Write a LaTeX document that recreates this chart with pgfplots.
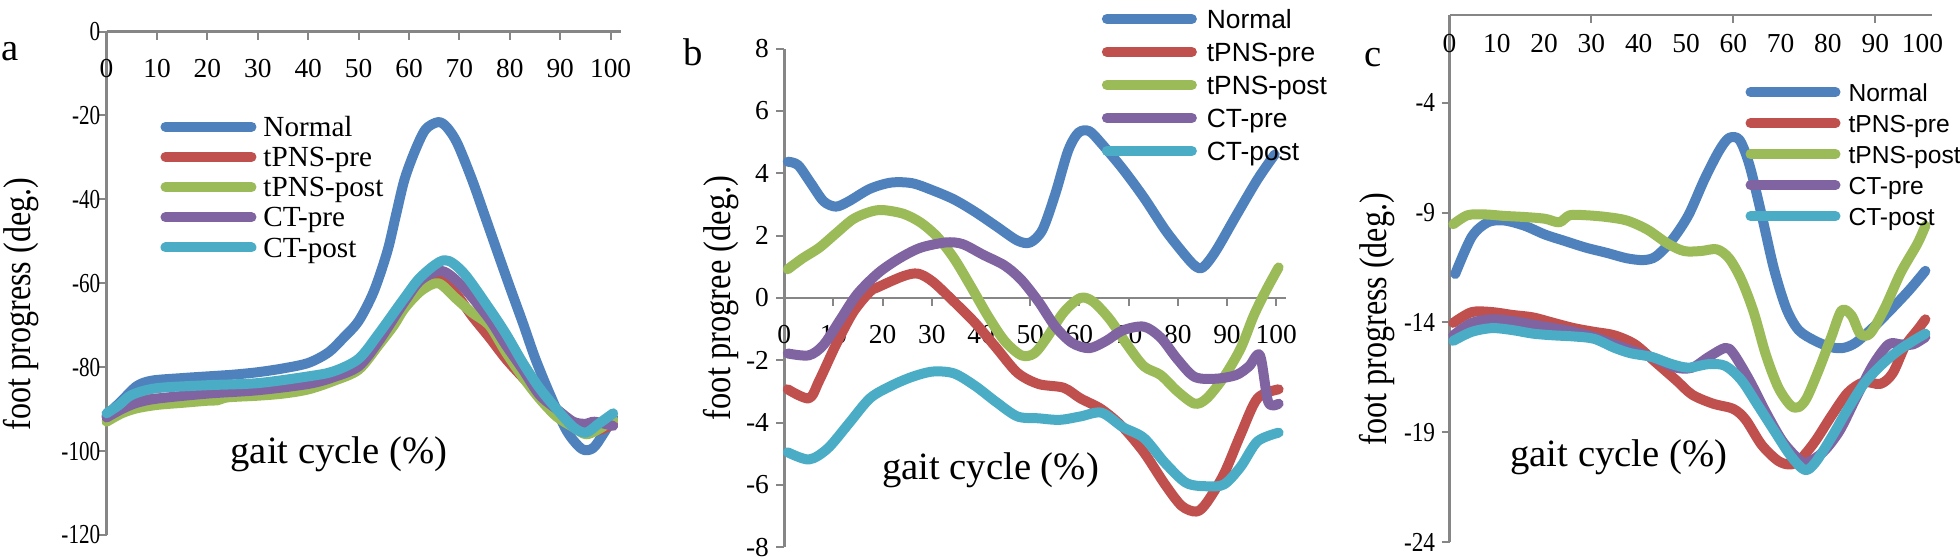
\documentclass[border=0pt]{standalone}
\usepackage{pgfplots}
\pgfplotsset{compat=1.18}
\usepackage{fontspec}
\setmainfont{Liberation Serif}
\newfontfamily\arial{Liberation Sans}
\definecolor{cN}{HTML}{4F81BD}
\definecolor{cTP}{HTML}{C0504D}
\definecolor{cTQ}{HTML}{9BBB59}
\definecolor{cCP}{HTML}{8064A2}
\definecolor{cCQ}{HTML}{4BACC6}
\definecolor{axg}{HTML}{868686}
\pgfplotsset{
  panel/.style={
    scale only axis,
    xmin=0, xmax=102,
    axis x line=middle, axis y line=left,
    axis line style={draw=axg, line width=0.025cm, -},
    tick style={draw=axg, line width=0.02cm},
    tick align=outside,
    major tick length=0.08cm,
    hide obscured x ticks=false, hide obscured y ticks=false,
    /pgf/number format/assume math mode=true,
    tick label style={font=\fontsize{7.8}{8}\selectfont, text=black},
    every axis plot/.append style={line width=0.1cm, line cap=round, line join=round, smooth, tension=0.5, no markers},
    clip=false,
    legend cell align=left,
  },
}
\begin{document}
\begin{tikzpicture}
\useasboundingbox (0,0) rectangle (19.6,5.6);
% ---------------- panel a ----------------
\begin{axis}[panel,
  at={(1.066cm,0.25cm)}, anchor=south west,
  width=5.141cm, height=5.035cm,
  ymin=-120, ymax=0, ytick={-120,-100,...,0},
  yticklabel={\scalebox{0.77}[1]{\pgfmathprintnumber{\tick}}},
  yticklabel style={xshift=0.14cm},
  xtick={0,10,...,100},
  xticklabel style={yshift=-0.07cm},
  legend style={draw=none, fill=none, inner sep=0pt, outer sep=0pt,
    at={(axis description cs:0.1048,0.691)}, anchor=west,
    column sep=0.07cm, row sep=0pt,
    font=\fontsize{8.3}{9}\selectfont,
    nodes={inner sep=0pt, text height=0.2475cm, text depth=0.0545cm}},
  legend image code/.code={\draw[#1, line width=0.1cm, line cap=round] (0cm,0cm) -- (0.86cm,0cm);},
  xlabel={gait cycle (\%)},
  every axis x label/.style={at={(axis description cs:0.452,0.161)}, anchor=center, font=\fontsize{11}{13}\selectfont},
  ylabel={\scalebox{0.83}[1]{foot progress (deg.)}},
  every axis y label/.style={at={(axis description cs:-0.1665,0.4588)}, anchor=center, rotate=90, font=\fontsize{11}{13}\selectfont},
]
\addplot[cN] coordinates {(0,-91.5) (3,-88) (6,-84.5) (9,-83.2) (15,-82.6) (20,-82.2) (25,-81.8) (30,-81.2) (35,-80.3) (40,-79) (44,-76.5) (47,-73) (50,-69) (53,-62) (55.7,-52.4) (57.4,-43.8) (59.1,-35.3) (61.2,-28.4) (63.3,-23.3) (65.8,-21.6) (67.5,-22.8) (69.6,-26.7) (72.5,-35.3) (75,-43.8) (77.5,-52.4) (80,-60.9) (82.6,-69.5) (85.1,-78.1) (88,-86.6) (91.3,-95.2) (94.3,-99.5) (96.5,-99.3) (98.5,-96) (100.5,-92)};
\addlegendentry{Normal}
\addplot[cTP] coordinates {(0,-92) (3,-89.5) (6,-88.2) (10,-87.5) (20,-87) (30,-86.5) (40,-85) (45,-83) (50,-80) (54,-74.5) (58,-67) (62,-61) (66,-59.2) (69,-62) (72.5,-67.8) (76,-73) (79.2,-78) (82.6,-82.5) (85.9,-86.6) (89,-90.5) (91.5,-92.8) (94.3,-94.3) (97.6,-95) (100.5,-93.5)};
\addlegendentry{tPNS-pre}
\addplot[cTQ] coordinates {(0,-93) (3,-91) (6,-89.8) (10,-89) (15,-88.5) (20,-88) (22,-87.9) (24,-87.2) (30,-86.8) (35,-86.3) (40,-85.3) (45,-83.3) (50,-80.6) (54,-74.7) (57,-70) (59.1,-66) (62.4,-61.8) (65.8,-60) (69.2,-63.5) (72.5,-67) (75.9,-70) (79.2,-76.4) (82.6,-82.4) (85.9,-87.5) (89.3,-91.8) (92.6,-94.3) (95.1,-96) (97.6,-94.8) (100.5,-92.6)};
\addlegendentry{tPNS-post}
\addplot[cCP] coordinates {(0,-92) (3,-90) (6,-88.5) (10,-87.5) (20,-86.3) (30,-85.5) (40,-84) (45,-82.4) (50,-79.8) (54,-73.8) (59.1,-64.4) (62.4,-59.2) (66.6,-57.1) (70.8,-61) (75.9,-68.5) (79.2,-74.7) (82.6,-80.6) (85.9,-86.6) (89.3,-90) (92.6,-93) (95.1,-93.5) (96.8,-93) (100.5,-94)};
\addlegendentry{CT-pre}
\addplot[cCQ] coordinates {(0,-91) (2.5,-89) (5,-86.6) (10,-85) (20,-84.3) (30,-83.8) (40,-82.2) (45,-81) (50,-78) (54,-72) (59.1,-63.5) (62.4,-58.4) (67,-54.5) (70.8,-57.5) (75.9,-66) (79.2,-72) (82.6,-79) (85.9,-85) (89.3,-90) (92.6,-94.3) (95.1,-95.6) (97.6,-93.5) (100.5,-91)};
\addlegendentry{CT-post}
\end{axis}
% ---------------- panel b ----------------
\begin{axis}[panel,
  at={(7.843cm,0.126cm)}, anchor=south west,
  width=5.017cm, height=4.989cm,
  ymin=-8, ymax=8, ytick={-8,-6,...,8},
  yticklabel style={xshift=0.05cm},
  xtick={0,10,...,100},
  xticklabel style={yshift=-0.07cm},
  legend style={draw=none, fill=none, inner sep=0pt, outer sep=0pt,
    at={(axis description cs:0.633,0.927)}, anchor=west,
    column sep=0.1cm, row sep=0pt,
    font=\arial\fontsize{7.5}{9}\selectfont,
    nodes={inner sep=0pt, text height=0.2595cm, text depth=0.0705cm}},
  legend image code/.code={\draw[#1, line width=0.1cm, line cap=round] (0cm,0cm) -- (0.85cm,0cm);},
  xlabel={gait cycle (\%)},
  every axis x label/.style={at={(axis description cs:0.411,0.155)}, anchor=center, font=\fontsize{11}{13}\selectfont},
  ylabel={\scalebox{0.84}[1]{foot progree (deg.)}},
  every axis y label/.style={at={(axis description cs:-0.126,0.4999)}, anchor=center, rotate=90, font=\fontsize{11}{13}\selectfont},
]
\addplot[cN] coordinates {(0.7,4.37) (2.8,4.26) (5.4,3.68) (8,3.1) (10.5,2.93) (13.1,3.1) (17.4,3.5) (21.7,3.7) (26,3.68) (30.2,3.45) (34.5,3.16) (38.8,2.76) (43.1,2.3) (47.4,1.84) (50,1.78) (52.5,2.19) (55.1,3.34) (57.7,4.72) (59.8,5.3) (62,5.35) (64.5,4.95) (68.8,4.14) (73.1,3.22) (77.4,2.19) (80.8,1.5) (83.4,1.04) (85.1,0.98) (87.7,1.5) (91.9,2.65) (96.2,3.8) (99.7,4.6)};
\addlegendentry{Normal}
\addplot[cTP] coordinates {(0.7,-2.93) (5,-3.22) (7.1,-2.65) (10.5,-1.5) (14,-0.46) (17.4,0.2) (19.1,0.35) (24.2,0.7) (27.2,0.78) (30.2,0.52) (34.5,-0.12) (38.8,-0.8) (43.1,-1.6) (47.4,-2.4) (51.7,-2.76) (56.8,-2.88) (60.2,-3.22) (64.5,-3.57) (68.8,-4.14) (73.1,-4.95) (77.4,-5.98) (80.8,-6.67) (83.8,-6.85) (85.9,-6.56) (89.4,-5.64) (92.8,-4.37) (96.2,-3.22) (100.5,-2.93)};
\addlegendentry{tPNS-pre}
\addplot[cTQ] coordinates {(0.7,0.92) (3.7,1.27) (7.1,1.61) (10.5,2.07) (14,2.53) (17.4,2.76) (20,2.82) (24.2,2.7) (27.7,2.42) (31.1,1.96) (34.5,1.27) (38,0.35) (41.4,-0.58) (44.8,-1.38) (48.2,-1.84) (50.8,-1.78) (53.4,-1.27) (56.8,-0.46) (60.2,0) (62.8,-0.12) (66.2,-0.69) (69.7,-1.5) (73.1,-2.19) (76.5,-2.47) (79.9,-2.99) (83.4,-3.39) (85.9,-3.22) (89.4,-2.53) (92.8,-1.61) (95.4,-0.58) (97.9,0.23) (100.5,0.98)};
\addlegendentry{tPNS-post}
\addplot[cCP] coordinates {(0.7,-1.78) (5,-1.84) (8,-1.5) (11.4,-0.69) (14.8,0.12) (19.1,0.8) (23.4,1.27) (27.7,1.61) (32.8,1.78) (36.2,1.73) (40.5,1.38) (44.8,1.04) (48.2,0.58) (51.7,-0.12) (55.1,-0.92) (58.5,-1.44) (62,-1.61) (65.4,-1.38) (68.8,-1.04) (73.1,-0.92) (76.5,-1.27) (79.9,-1.96) (83.4,-2.53) (87.7,-2.59) (91.9,-2.47) (94.5,-2.19) (96.7,-1.84) (98.4,-3.34) (100.5,-3.39)};
\addlegendentry{CT-pre}
\addplot[cCQ] coordinates {(0.7,-4.95) (5,-5.18) (8.8,-4.83) (13.1,-4.03) (17.4,-3.22) (21.7,-2.82) (26,-2.53) (30.2,-2.36) (34.5,-2.42) (38.8,-2.82) (43.1,-3.34) (47.4,-3.8) (51.7,-3.86) (56,-3.91) (60.2,-3.8) (64.5,-3.68) (68.8,-4.14) (73.1,-4.49) (77.4,-5.29) (81.7,-5.93) (85.9,-6.04) (89.4,-5.98) (92.8,-5.41) (96.2,-4.6) (100.5,-4.32)};
\addlegendentry{CT-post}
\end{axis}
% ---------------- panel c ----------------
\begin{axis}[panel,
  at={(14.495cm,0.18cm)}, anchor=south west,
  width=4.825cm, height=5.27cm,
  ymin=-24, ymax=0, ytick={-24,-19,-14,-9,-4},
  yticklabel={\scalebox{0.85}[1]{\pgfmathprintnumber{\tick}}},
  yticklabel style={xshift=0.06cm},
  xtick={30,60,90}, xticklabels={},
  extra x ticks={0,10,...,100},
  extra x tick style={major tick length=0pt},
  xticklabel style={yshift=-0.07cm},
  legend style={draw=none, fill=none, inner sep=0pt, outer sep=0pt,
    at={(axis description cs:0.6135,0.736)}, anchor=west,
    column sep=0.08cm, row sep=0pt,
    font=\arial\fontsize{7.0}{9}\selectfont,
    nodes={inner sep=0pt, text height=0.2495cm, text depth=0.0605cm}},
  legend image code/.code={\draw[#1, line width=0.1cm, line cap=round] (0cm,0cm) -- (0.85cm,0cm);},
  xlabel={gait cycle (\%)},
  every axis x label/.style={at={(axis description cs:0.351,0.160)}, anchor=center, font=\fontsize{11}{13}\selectfont},
  ylabel={\scalebox{0.83}[1]{foot progress (deg.)}},
  every axis y label/.style={at={(axis description cs:-0.150,0.423)}, anchor=center, rotate=90, font=\fontsize{11}{13}\selectfont},
]
\addplot[cN] coordinates {(1.2,-11.8) (4.7,-10.1) (8.1,-9.44) (11.6,-9.36) (15.9,-9.6) (20.2,-10.0) (24.5,-10.3) (28.9,-10.6) (33.2,-10.83) (37.5,-11.08) (41,-11.16) (43.6,-11.0) (47,-10.26) (50.5,-9.12) (53.9,-7.48) (57,-6.18) (59.1,-5.6) (61.3,-5.69) (63.4,-6.83) (66,-9.12) (68.6,-11.57) (71.2,-13.37) (73.8,-14.35) (77.3,-14.84) (80.7,-15.13) (83.3,-15.16) (85.9,-14.92) (89.4,-14.26) (92.8,-13.53) (97.1,-12.55) (100.6,-11.65)};
\addlegendentry{Normal}
\addplot[cTP] coordinates {(0.8,-14.02) (4.7,-13.53) (9,-13.53) (13.3,-13.66) (17.6,-13.77) (22,-14.02) (26.3,-14.26) (30.6,-14.43) (34.9,-14.59) (39.2,-15.0) (43.6,-15.82) (47.9,-16.63) (51.3,-17.29) (55.7,-17.7) (60,-17.94) (62.6,-18.43) (66,-19.58) (69.5,-20.31) (72.1,-20.47) (74.2,-20.23) (77.3,-19.41) (80.7,-18.27) (84.2,-17.2) (87.6,-16.72) (91.1,-16.8) (93.7,-16.31) (96.3,-15.08) (98.9,-14.35) (100.6,-13.86)};
\addlegendentry{tPNS-pre}
\addplot[cTQ] coordinates {(0.8,-9.53) (3.8,-9.12) (7.3,-9.08) (11.6,-9.15) (15.9,-9.2) (20.2,-9.28) (23.2,-9.44) (25.4,-9.12) (28.9,-9.12) (33.2,-9.2) (37.5,-9.36) (41.8,-9.77) (46.2,-10.42) (49.6,-10.75) (53.1,-10.75) (56.5,-10.67) (59.1,-11.08) (61.7,-12.06) (64.3,-13.53) (66.9,-15.49) (69.5,-16.96) (72.1,-17.78) (73.8,-17.86) (75.5,-17.45) (78.1,-16.14) (80.7,-14.67) (82.9,-13.45) (85,-13.69) (86.8,-14.51) (88.9,-14.51) (91.96,-13.37) (95.4,-11.73) (98.9,-10.42) (100.6,-9.6)};
\addlegendentry{tPNS-post}
\addplot[cCP] coordinates {(0.8,-14.59) (4.7,-14.02) (9,-13.86) (13.3,-13.94) (17.6,-14.1) (22,-14.26) (26.3,-14.43) (30.6,-14.67) (34.9,-15.0) (39.2,-15.33) (43.6,-15.65) (47.9,-16.06) (51.3,-16.06) (54.8,-15.57) (58.3,-15.16) (60,-15.41) (63.4,-16.63) (66.9,-18.1) (70.4,-19.41) (73.8,-20.23) (75.5,-20.39) (79,-19.9) (82.5,-18.92) (85.9,-17.45) (89.4,-15.98) (92.8,-15.0) (95.4,-15.0) (98,-15.0) (100.6,-14.67)};
\addlegendentry{CT-pre}
\addplot[cCQ] coordinates {(0.8,-14.84) (4.7,-14.43) (9,-14.26) (13.3,-14.35) (17.6,-14.51) (22,-14.59) (26.3,-14.64) (30.6,-14.75) (34.9,-15.16) (38.4,-15.41) (42.7,-15.57) (47,-15.9) (50.5,-16.06) (54.8,-15.9) (58.3,-15.98) (61.7,-16.63) (65.2,-17.78) (68.6,-18.92) (72.1,-20.07) (75.1,-20.72) (77.3,-20.39) (80.7,-19.25) (84.2,-17.94) (87.6,-16.8) (91.1,-15.98) (94.6,-15.33) (98,-14.84) (100.6,-14.51)};
\addlegendentry{CT-post}
\end{axis}
\node[anchor=base, font=\fontsize{11}{13}\selectfont] at (0.105,4.99) {a};
\node[anchor=base, font=\fontsize{11}{13}\selectfont] at (6.936,4.94) {b};
\node[anchor=base, font=\fontsize{11}{13}\selectfont] at (13.73,4.936) {c};
\end{tikzpicture}
\end{document}
